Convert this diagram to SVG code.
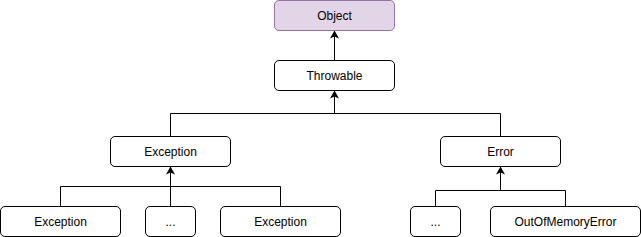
<svg xmlns="http://www.w3.org/2000/svg" width="641" height="237" viewBox="0 0 641 237">
<style>
.box{fill:#ffffff;stroke:#000000;stroke-width:1}
.obj{fill:#e1d5e7;stroke:#9673a6;stroke-width:1}
.lbl{font-family:"Liberation Sans",Arial,sans-serif;font-size:12px;fill:#000000;text-anchor:middle;dominant-baseline:central}
.edge{fill:none;stroke:#000000;stroke-width:1}
</style>
<defs>
<marker id="arr" viewBox="0 0 8 9" refX="8" refY="4.5" markerWidth="8" markerHeight="9" markerUnits="userSpaceOnUse" orient="auto">
<path d="M0,0 L8,4.5 L0,9 L2,4.5 z" fill="#000000"/>
</marker>
</defs>
<g id="connectors">
<path class="edge" d="M334.5,60.5 V30.5" marker-end="url(#arr)"/>
<path class="edge" d="M170.5,136.5 V113.5 H500.5 V136.5"/>
<path class="edge" d="M334.5,113.5 V90.5" marker-end="url(#arr)"/>
<path class="edge" d="M60.5,206.5 V186.5 H280.5 V206.5"/>
<path class="edge" d="M170.5,206.5 V166.5" marker-end="url(#arr)"/>
<path class="edge" d="M435.5,206.5 V190.5 H565.5 V206.5"/>
<path class="edge" d="M500.5,190.5 V166.5" marker-end="url(#arr)"/>
</g>
<g id="object"><rect class="obj" x="274.5" y="0.5" width="120" height="30" rx="4.5"/><text class="lbl" x="334.5" y="15.5">Object</text></g>
<g id="throwable"><rect class="box" x="274.5" y="60.5" width="120" height="30" rx="4.5"/><text class="lbl" x="334.5" y="75.5">Throwable</text></g>
<g id="exception"><rect class="box" x="110.5" y="136.5" width="120" height="30" rx="4.5"/><text class="lbl" x="170.5" y="151.5">Exception</text></g>
<g id="error"><rect class="box" x="440.5" y="136.5" width="120" height="30" rx="4.5"/><text class="lbl" x="500.5" y="151.5">Error</text></g>
<g id="exception1"><rect class="box" x="0.5" y="206.5" width="120" height="30" rx="4.5"/><text class="lbl" x="60.5" y="221.5">Exception</text></g>
<g id="dots1"><rect class="box" x="145.5" y="206.5" width="50" height="30" rx="4.5"/><text class="lbl" x="170.5" y="221.5">...</text></g>
<g id="exception2"><rect class="box" x="220.5" y="206.5" width="120" height="30" rx="4.5"/><text class="lbl" x="280.5" y="221.5">Exception</text></g>
<g id="dots2"><rect class="box" x="410.5" y="206.5" width="50" height="30" rx="4.5"/><text class="lbl" x="435.5" y="221.5">...</text></g>
<g id="oom"><rect class="box" x="490.5" y="206.5" width="150" height="30" rx="4.5"/><text class="lbl" x="565.5" y="221.5">OutOfMemoryError</text></g>
</svg>
